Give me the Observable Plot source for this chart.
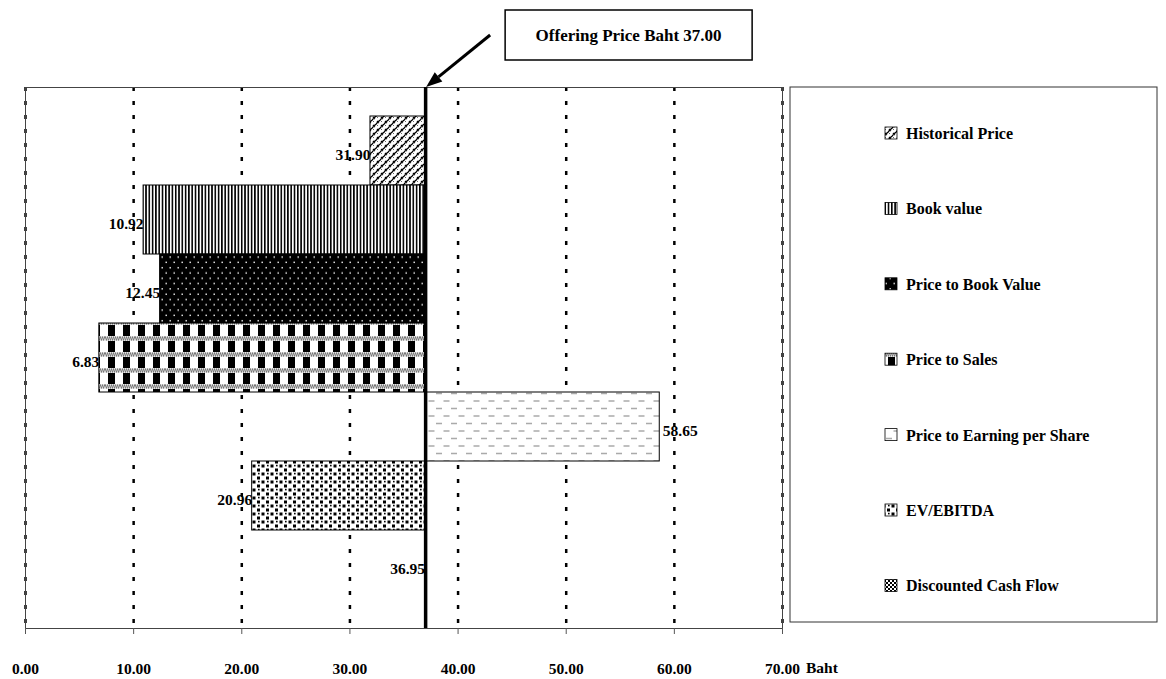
<!DOCTYPE html>
<html><head><meta charset="utf-8">
<script src="https://cdn.jsdelivr.net/npm/d3@7"></script>
<script src="https://cdn.jsdelivr.net/npm/@observablehq/plot@0.6"></script>
<style>body{margin:0;background:#fff;} #chart{width:1166px;height:679px;}</style>
</head><body><div id="chart"></div>
<script>
const categories = ["Historical Price","Book value","Price to Book Value","Price to Sales","Price to Earning per Share","EV/EBITDA","Discounted Cash Flow"];
const values = [31.90, 10.92, 12.45, 6.83, 58.65, 20.96, 36.95];
const offeringPrice = 37.00;
const xTicks = [0, 10, 20, 30, 40, 50, 60, 70];
const unitLabel = "Baht";
const annotationText = "Offering Price Baht 37.00";
const patternIds = ["p-hist","p-book","p-pbv","p-ps","p-pe","p-ev","p-dcf"];

const data = categories.map((c, i) => ({
  name: c, value: values[i], base: offeringPrice,
  fill: `url(#${patternIds[i]})`,
  side: values[i] > offeringPrice ? "right" : "left"
}));

const FONT = "'Liberation Serif', 'Times New Roman', serif";

const chart = Plot.plot({
  width: 1166, height: 679,
  marginLeft: 25, marginRight: 384, marginTop: 87, marginBottom: 51,
  style: {fontFamily: FONT, fontWeight: "bold", fontSize: "15px", background: "#fff", color: "#000", overflow: "visible"},
  x: {domain: [0, 70]},
  y: {domain: categories, paddingInner: 0, paddingOuter: 0.39, axis: null},
  color: {type: "identity"},
  marks: [
    Plot.ruleX(xTicks, {stroke: "#000", strokeWidth: 2.5, strokeDasharray: "4,10"}),
    Plot.frame({stroke: "#444", strokeWidth: 1}),
    Plot.barX(data, {x1: "value", x2: "base", y: "name", fill: "fill", stroke: "#000", strokeWidth: 1}),
    Plot.ruleX([offeringPrice], {stroke: "#000", strokeWidth: 3.5}),
    Plot.text(data.filter(d => d.side === "left"), {x: "value", y: "name", text: d => d.value.toFixed(2), textAnchor: "end", dx: 0, dy: 4, fill: "#000", fontSize: 15.5}),
    Plot.text(data.filter(d => d.side === "right"), {x: "value", y: "name", text: d => d.value.toFixed(2), textAnchor: "start", dx: 3, dy: 4, fill: "#000", fontSize: 15.5}),
    Plot.axisX({ticks: xTicks, tickFormat: d => d.toFixed(2), tickSize: 6, tickPadding: 28, stroke: "#555", fill: "#000", fontSize: 15.5, fontWeight: "bold", label: null}),
    Plot.ruleY([0], {frameAnchor: "bottom", stroke: "#000", strokeWidth: 1.2})
  ]
});

document.getElementById("chart").appendChild(chart);

const svg = d3.select(chart);
const defs = svg.insert("defs", ":first-child");

function pat(id, w, h, bg, draw) {
  const p = defs.append("pattern").attr("id", id).attr("patternUnits", "userSpaceOnUse").attr("width", w).attr("height", h);
  p.append("rect").attr("width", w).attr("height", h).attr("fill", bg);
  draw(p);
}
// Historical price: woven diagonal
pat("p-hist", 8, 8, "#fff", p => {
  p.append("path").attr("d", "M0,4 L4,0 M4,8 L8,4 M1,1 L3,3 M5,5 L7,7").attr("stroke", "#000").attr("stroke-width", 1.3).attr("fill", "none");
  p.append("path").attr("d", "M4,0 L6,2 M0,4 L2,6").attr("stroke", "#666").attr("stroke-width", 1).attr("fill", "none");
});
// Book value: vertical stripes
pat("p-book", 3.3, 4, "#fff", p => {
  p.append("rect").attr("x", 0).attr("width", 1.6).attr("height", 4).attr("fill", "#000");
});
// Price to Book: black with white dots
pat("p-pbv", 8, 10.6, "#000", p => {
  p.append("rect").attr("x", 1.5).attr("y", 2).attr("width", 1.4).attr("height", 1.4).attr("fill", "#fff");
  p.append("rect").attr("x", 5.5).attr("y", 7.3).attr("width", 1.4).attr("height", 1.4).attr("fill", "#fff");
});
// Price to Sales: plaid of black blocks and gray checker bands
pat("p-ps", 15, 16, "#fff", p => {
  p.append("rect").attr("x", 3).attr("y", 5).attr("width", 7).attr("height", 11).attr("fill", "#000");
  for (let i = 0; i < 8; i++) {
    for (let j = 0; j < 2; j++) {
      p.append("rect").attr("x", i * 2 + (j % 2)).attr("y", j * 2 + 0.5).attr("width", 1).attr("height", 2).attr("fill", "#555");
    }
  }
  p.append("rect").attr("x", 0).attr("y", 0.5).attr("width", 15).attr("height", 4).attr("fill", "#999").attr("opacity", 0.5);
});
// P/E: light gray dashes
pat("p-pe", 15, 15, "#fff", p => {
  p.append("path").attr("d", "M1,3.5 h6 M8.5,11 h6").attr("stroke", "#aaa").attr("stroke-width", 1.6);
});
// EV/EBITDA: staggered black squares
pat("p-ev", 9, 8, "#fff", p => {
  p.append("rect").attr("x", 0.5).attr("y", 0.5).attr("width", 3).attr("height", 3).attr("fill", "#000");
  p.append("rect").attr("x", 5).attr("y", 4.5).attr("width", 3).attr("height", 3).attr("fill", "#000");
  p.append("rect").attr("x", 6).attr("y", 0.8).attr("width", 1.6).attr("height", 1.6).attr("fill", "#000");
});
// DCF: checker
pat("p-dcf", 4, 4, "#fff", p => {
  p.append("rect").attr("x", 0).attr("y", 0).attr("width", 2).attr("height", 2).attr("fill", "#000");
  p.append("rect").attr("x", 2).attr("y", 2).attr("width", 2).attr("height", 2).attr("fill", "#000");
});

const xs = chart.scale("x");
const xo = xs.apply(offeringPrice);

// "Baht" unit label after the last tick
svg.append("text").attr("x", xs.apply(70) + 24).attr("y", 673).attr("text-anchor", "start")
  .attr("font-family", FONT).attr("font-weight", "bold").attr("font-size", 15.5).attr("fill", "#000").text(unitLabel);

// Annotation box and arrow
const ann = svg.append("g");
ann.append("rect").attr("x", xo + 80).attr("y", 10).attr("width", 247).attr("height", 50).attr("fill", "#fff").attr("stroke", "#000").attr("stroke-width", 1.5);
ann.append("text").attr("x", xo + 80 + 123.5).attr("y", 41).attr("text-anchor", "middle")
  .attr("font-family", FONT).attr("font-weight", "bold").attr("font-size", 17).attr("fill", "#000").text(annotationText);
const ax1 = xo + 65, ay1 = 35, ax2 = xo + 1, ay2 = 87;
const ang = Math.atan2(ay2 - ay1, ax2 - ax1);
const hl = 16, hw = 6;
const bx = ax2 - hl * Math.cos(ang), by = ay2 - hl * Math.sin(ang);
ann.append("line").attr("x1", ax1).attr("y1", ay1).attr("x2", bx).attr("y2", by).attr("stroke", "#000").attr("stroke-width", 3);
ann.append("polygon").attr("points", [
  [ax2, ay2],
  [bx + hw * Math.sin(ang), by - hw * Math.cos(ang)],
  [bx - hw * Math.sin(ang), by + hw * Math.cos(ang)]
].map(p => p.join(",")).join(" ")).attr("fill", "#000");

// Legend box
const lg = svg.append("g").attr("text-anchor", "start");
lg.append("rect").attr("x", 790).attr("y", 87).attr("width", 367).attr("height", 535).attr("fill", "#fff").attr("stroke", "#333").attr("stroke-width", 1);
categories.forEach((c, i) => {
  const cy = 134 + i * 75.4;
  lg.append("rect").attr("x", 885).attr("y", cy - 7).attr("width", 12).attr("height", 12)
    .attr("fill", `url(#${patternIds[i]})`).attr("stroke", "#000").attr("stroke-width", 0.8);
  lg.append("text").attr("x", 906).attr("y", cy + 5).attr("text-anchor", "start")
    .attr("font-family", FONT).attr("font-weight", "bold").attr("font-size", 16).attr("fill", "#000").text(c);
});
</script>
</body></html>
